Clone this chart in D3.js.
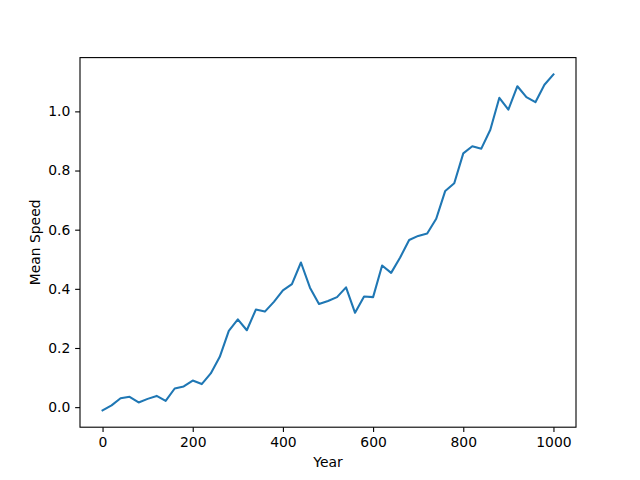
<!DOCTYPE html>
<html><head><meta charset="utf-8">
<script src="https://cdn.jsdelivr.net/npm/d3@7"></script>
<style>body{margin:0;background:#fff}svg{display:block}text{font-family:"DejaVu Sans",sans-serif}</style>
</head><body>
<script>
const years = d3.range(0, 1001, 20);
const meanSpeed = [-0.011,0.006,0.030,0.035,0.016,0.028,0.038,0.021,0.063,0.070,0.090,0.078,0.114,0.170,0.258,0.297,0.260,0.330,0.323,0.356,0.395,0.416,0.489,0.404,0.349,0.359,0.372,0.405,0.319,0.374,0.372,0.479,0.454,0.506,0.565,0.579,0.587,0.637,0.731,0.757,0.858,0.882,0.874,0.938,1.046,1.006,1.085,1.048,1.031,1.090,1.125];
const xTicks = [0,200,400,600,800,1000];
const yTicks = [0.0,0.2,0.4,0.6,0.8,1.0];

const W=640,H=480, L=80, R=576, T=57.6, B=427.2;
const svg=d3.select("body").append("svg").attr("width",W).attr("height",H);
const data = years.map((y,i)=>({x:y,y:meanSpeed[i]}));
const xmin=d3.min(years), xmax=d3.max(years), xm=(xmax-xmin)*0.05;
const ymin=d3.min(meanSpeed), ymax=d3.max(meanSpeed), ym=(ymax-ymin)*0.05;
const x=d3.scaleLinear().domain([xmin-xm,xmax+xm]).range([L,R]);
const y=d3.scaleLinear().domain([ymin-ym,ymax+ym]).range([B,T]);

svg.append("path").datum(data)
  .attr("fill","none").attr("stroke","#1f77b4").attr("stroke-width",2.08)
  .attr("stroke-linejoin","round").attr("stroke-linecap","square")
  .attr("d",d3.line().x(d=>x(d.x)).y(d=>y(d.y)));

const xa=svg.append("g").attr("transform",`translate(0,${B})`)
  .call(d3.axisBottom(x).tickValues(xTicks).tickFormat(d3.format("d")).tickSize(4.86).tickPadding(4.86));
const ya=svg.append("g").attr("transform",`translate(${L},0)`)
  .call(d3.axisLeft(y).tickValues(yTicks).tickFormat(d3.format(".1f")).tickSize(4.86).tickPadding(4.86));
[xa,ya].forEach(a=>{
  a.select(".domain").remove();
  a.selectAll(".tick line").attr("stroke","#000").attr("stroke-width",1.1);
  a.selectAll(".tick text").attr("font-size",13.9).attr("fill","#000").attr("font-family","DejaVu Sans");
});
svg.append("rect").attr("x",L).attr("y",T).attr("width",R-L).attr("height",B-T)
  .attr("fill","none").attr("stroke","#000").attr("stroke-width",1.1);

svg.append("text").attr("x",(L+R)/2).attr("y",467).attr("text-anchor","middle")
  .attr("font-size",13.9).text("Year");
svg.append("text").attr("transform",`translate(39.5,${(T+B)/2}) rotate(-90)`).attr("text-anchor","middle")
  .attr("font-size",13.9).text("Mean Speed");
</script>
</body></html>
